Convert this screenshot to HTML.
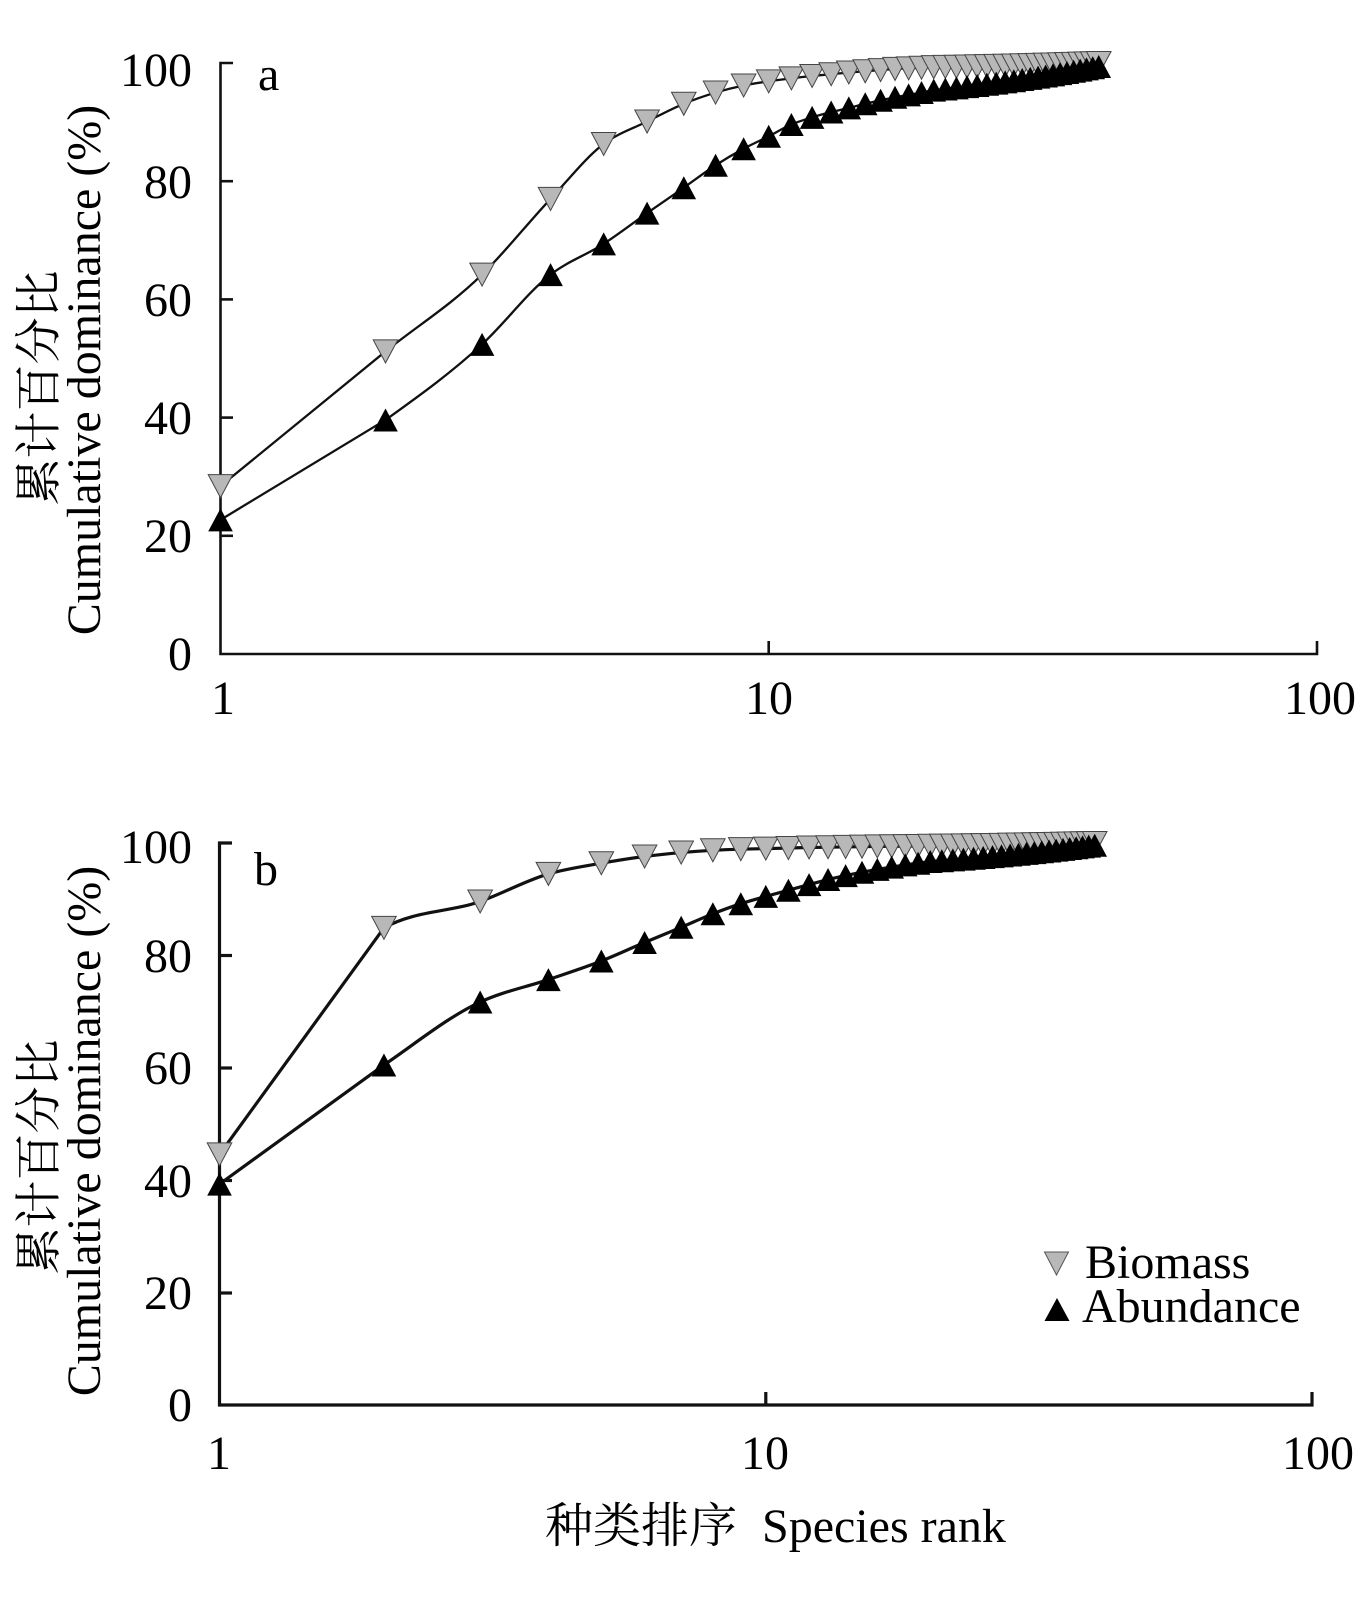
<!DOCTYPE html>
<html>
<head>
<meta charset="utf-8">
<style>
  html, body { margin: 0; padding: 0; background: #fff; }
  svg { display: block; }
  text { font-family: "Liberation Serif", "Noto Serif CJK SC", serif; fill: #000; }
  .cjk { font-family: "Noto Serif CJK SC", "Liberation Serif", serif; }
</style>
</head>
<body>
<svg id="chart" width="1369" height="1600" viewBox="0 0 1369 1600" xmlns="http://www.w3.org/2000/svg">
  <rect x="0" y="0" width="1369" height="1600" fill="#fff"/>

  <!-- ===== Panel a axes ===== -->
  <g stroke="#111" stroke-width="2.6" fill="none">
    <path d="M233,63 H220.5 V654 H1317 V641"/>
    <line x1="220.5" y1="181.2" x2="233" y2="181.2"/>
    <line x1="220.5" y1="299.4" x2="233" y2="299.4"/>
    <line x1="220.5" y1="417.6" x2="233" y2="417.6"/>
    <line x1="220.5" y1="535.8" x2="233" y2="535.8"/>
    <line x1="768.7" y1="654" x2="768.7" y2="641"/>
  </g>
  <g font-size="48" text-anchor="end">
    <text x="192" y="86">100</text>
    <text x="192" y="198">80</text>
    <text x="192" y="316">60</text>
    <text x="192" y="434">40</text>
    <text x="192" y="552">20</text>
    <text x="192" y="670">0</text>
  </g>
  <g font-size="48" text-anchor="middle">
    <text x="223" y="714">1</text>
    <text x="769" y="714">10</text>
    <text x="1320" y="714">100</text>
  </g>
  <text x="258" y="90" font-size="48">a</text>
  <text class="cjk" font-size="47" text-anchor="middle" transform="translate(55,388) rotate(-90)">累计百分比</text>
  <text font-size="48" text-anchor="middle" transform="translate(100,370) rotate(-90)">Cumulative dominance (%)</text>

  <!-- ===== Panel b axes ===== -->
  <g stroke="#111" stroke-width="3.2" fill="none">
    <path d="M232,843 H219.5 V1405 H1312 V1392"/>
    <line x1="219.5" y1="955.5" x2="232" y2="955.5"/>
    <line x1="219.5" y1="1068" x2="232" y2="1068"/>
    <line x1="219.5" y1="1180.5" x2="232" y2="1180.5"/>
    <line x1="219.5" y1="1293" x2="232" y2="1293"/>
    <line x1="765.8" y1="1405" x2="765.8" y2="1392"/>
  </g>
  <g font-size="48" text-anchor="end">
    <text x="192" y="863">100</text>
    <text x="192" y="972">80</text>
    <text x="192" y="1084">60</text>
    <text x="192" y="1197">40</text>
    <text x="192" y="1309">20</text>
    <text x="192" y="1421">0</text>
  </g>
  <g font-size="48" text-anchor="middle">
    <text x="219" y="1469">1</text>
    <text x="765" y="1469">10</text>
    <text x="1318" y="1469">100</text>
  </g>
  <text x="254" y="885" font-size="48">b</text>
  <text class="cjk" font-size="47" text-anchor="middle" transform="translate(55,1157) rotate(-90)">累计百分比</text>
  <text font-size="48" text-anchor="middle" transform="translate(100,1131) rotate(-90)">Cumulative dominance (%)</text>

  <!-- x title -->
  <text x="545" y="1542" font-size="48" class="cjk">种类排序</text>
  <text x="762" y="1542" font-size="48">Species rank</text>

  <!-- legend -->
  <polygon points="1044.5,1252 1068.5,1252 1056.5,1275" fill="#b8b8b8" stroke="#555" stroke-width="1"/>
  <polygon points="1057,1298 1069.5,1321 1044.5,1321" fill="#000"/>
  <text x="1085" y="1278" font-size="48">Biomass</text>
  <text x="1082" y="1322" font-size="48">Abundance</text>

  <g id="series"></g>
</svg>

<script>
(function(){
  var NS = "http://www.w3.org/2000/svg";
  var g = document.getElementById("series");

  function fill(arr, fromRank, toRank, endVal){
    var start = arr[arr.length-1];
    var n = toRank - (fromRank-1);
    for (var r = fromRank; r <= toRank; r++){
      arr.push(start + (endVal - start) * (r - (fromRank-1)) / n);
    }
    return arr;
  }

  var aBio = fill([28.4,51.2,64.2,77.0,86.3,90.1,93.1,95.0,96.2,96.9,97.4,97.8,98.1,98.4,98.6,98.8,99.0,99.1,99.2,99.3],21,40,100);
  var aAbu = fill([22.7,39.6,52.4,64.2,69.4,74.6,78.9,82.7,85.5,87.6,89.6,90.8,91.7,92.4,93.1,93.7,94.2,94.6,95.0,95.4],21,40,99.4);
  var bBio = fill([44.6,84.9,89.6,94.5,96.4,97.6,98.3,98.7,98.9,99.0,99.1,99.2,99.25,99.3,99.35,99.4],17,40,100);
  var bAbu = fill([39.3,60.5,71.7,75.7,79.0,82.3,85.0,87.4,89.2,90.5,91.6,92.6,93.5,94.2,94.8,95.3,95.7,96.1,96.4,96.7],21,40,99.6);

  function pts(data, P){
    var out = [];
    for (var i = 0; i < data.length; i++){
      var r = i + 1;
      var x = P.x0 + P.dec * Math.log10(r);
      var y = P.y0 - (P.y0 - P.y100) * data[i] / 100;
      out.push([x, y]);
    }
    return out;
  }

  function sign(v){ return v < 0 ? -1 : 1; }

  function monoPath(p){
    var n = p.length;
    var t = new Array(n);
    var h = [], s = [];
    for (var i = 0; i < n-1; i++){
      h.push(p[i+1][0]-p[i][0]);
      s.push((p[i+1][1]-p[i][1])/h[i]);
    }
    for (var i = 1; i < n-1; i++){
      var h0 = h[i-1], h1 = h[i], s0 = s[i-1], s1 = s[i];
      var pp = (s0*h1 + s1*h0)/(h0+h1);
      t[i] = (sign(s0)+sign(s1)) * Math.min(Math.abs(s0), Math.abs(s1), 0.5*Math.abs(pp)) || 0;
    }
    t[0] = s[0];
    t[n-1] = (3*s[n-2] - t[n-2])/2;
    // first segment straight: tangent at rank 2 for next segment starts from s[1]-ish
    var d = "M" + p[0][0].toFixed(2) + "," + p[0][1].toFixed(2);
    d += " L" + p[1][0].toFixed(2) + "," + p[1][1].toFixed(2);
    for (var i = 1; i < n-1; i++){
      var dx = h[i]/3;
      var c1x = p[i][0]+dx, c1y = p[i][1]+dx*t[i];
      var c2x = p[i+1][0]-dx, c2y = p[i+1][1]-dx*t[i+1];
      d += " C" + c1x.toFixed(2) + "," + c1y.toFixed(2) + " " + c2x.toFixed(2) + "," + c2y.toFixed(2) + " " + p[i+1][0].toFixed(2) + "," + p[i+1][1].toFixed(2);
    }
    return d;
  }

  function addLine(p, w){
    var path = document.createElementNS(NS, "path");
    path.setAttribute("d", monoPath(p));
    path.setAttribute("fill", "none");
    path.setAttribute("stroke", "#111");
    path.setAttribute("stroke-width", w);
    path.setAttribute("stroke-linejoin", "round");
    g.appendChild(path);
  }

  function addMarkers(p, type){
    for (var i = 0; i < p.length; i++){
      var cx = p[i][0], cy = p[i][1];
      var poly = document.createElementNS(NS, "polygon");
      var hw = 12.3, hh = 11.5;
      if (type === "down"){
        poly.setAttribute("points", (cx-hw)+","+(cy-hh)+" "+(cx+hw)+","+(cy-hh)+" "+cx+","+(cy+hh));
        poly.setAttribute("fill", "#b8b8b8");
        poly.setAttribute("stroke", "#444");
        poly.setAttribute("stroke-width", "1");
      } else {
        poly.setAttribute("points", cx+","+(cy-hh)+" "+(cx+hw)+","+(cy+hh)+" "+(cx-hw)+","+(cy+hh));
        poly.setAttribute("fill", "#000");
      }
      g.appendChild(poly);
    }
  }

  var PA = {x0:220.5, dec:548.2, y0:654, y100:63};
  var PB = {x0:219.5, dec:546.3, y0:1405, y100:843};

  var p;
  p = pts(aBio, PA); addLine(p, 2.3); addMarkers(p, "down");
  p = pts(aAbu, PA); addLine(p, 2.3); addMarkers(p, "up");
  p = pts(bBio, PB); addLine(p, 3.2); addMarkers(p, "down");
  p = pts(bAbu, PB); addLine(p, 3.2); addMarkers(p, "up");
})();
</script>
</body>
</html>
